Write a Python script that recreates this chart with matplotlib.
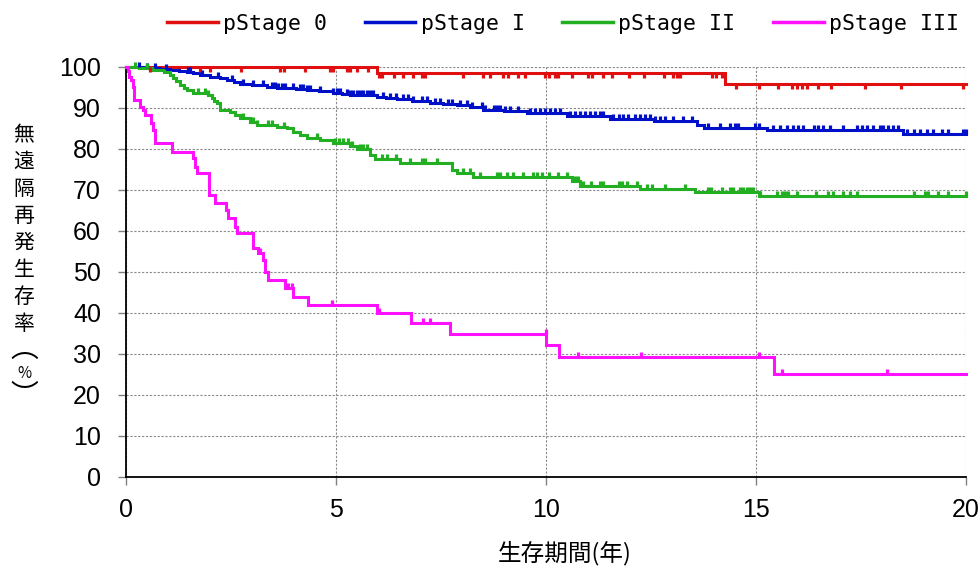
import numpy as np
import matplotlib
matplotlib.use("Agg")
import matplotlib.pyplot as plt
from matplotlib.path import Path
from matplotlib.lines import Line2D

# ---------------- data ----------------
series_labels = ["pStage 0", "pStage I", "pStage II", "pStage III"]
series_colors = ["#E01010", "#0010C8", "#22B022", "#FF10FF"]

red_t = [0, 5.97, 14.26]
red_s = [100, 98.5, 95.8]
red_c = [0.57, 1.76, 2.0, 2.73, 3.67, 3.75, 4.25, 4.86, 4.94, 5.25, 5.33, 5.49, 5.77,
         6.03, 6.09, 6.37, 6.6, 6.84, 7.04, 7.12, 8.03, 8.51, 8.67, 8.98, 9.1, 9.34, 9.5,
         9.98, 10.06, 10.21, 10.29, 10.61, 11.01, 11.09, 11.36, 11.56, 11.98, 12.34, 12.81,
         13.03, 13.11, 13.19, 13.96, 14.04, 14.2, 14.52, 15.08, 15.52, 15.86, 15.97, 16.09,
         16.21, 16.48, 16.79, 17.6, 18.45, 19.94]

blue_t = [0, 0.4, 0.8, 1.05, 1.25, 1.45, 1.6, 1.76, 2.0, 2.24, 2.4, 2.56, 2.71, 3.0, 3.35,
          3.6, 3.83, 4.05, 4.3, 4.6, 4.94, 5.15, 5.33, 5.97, 6.2, 6.45, 6.8, 7.24, 7.55, 7.87,
          8.19, 8.51, 9.0, 9.54, 10.49, 11.52, 12.56, 13.59, 13.75, 15.25, 18.5]
blue_s = [100, 99.8, 99.5, 99.2, 99.0, 98.8, 98.4, 98.0, 97.6, 97.2, 96.8, 96.3, 95.8, 95.5,
          95.1, 94.9, 94.7, 94.5, 94.3, 94.0, 93.7, 93.4, 93.1, 92.7, 92.4, 92.0, 91.6, 91.1,
          90.9, 90.7, 90.1, 89.4, 89.1, 88.8, 88.0, 87.2, 86.8, 85.8, 85.1, 84.5, 83.6]
blue_c = [0.3, 0.5, 0.7, 0.95, 1.48, 1.52, 1.8, 2.2, 2.52, 2.79, 3.03, 3.27, 3.47, 3.55, 3.63,
          3.71, 3.79, 3.98, 4.14, 4.22, 4.3, 4.38, 4.62, 4.94, 5.02, 5.1, 5.25, 5.33, 5.41,
          5.49, 5.57, 5.65, 5.73, 5.81, 5.89, 6.13, 6.29, 6.44, 6.6, 6.72, 6.84, 7.04, 7.16,
          7.36, 7.48, 7.67, 7.75, 7.95, 8.11, 8.23, 8.47, 8.55, 8.75, 8.83, 8.9, 9.02, 9.14,
          9.34, 9.62, 9.74, 9.86, 9.98, 10.1, 10.21, 10.33, 10.57, 10.69, 10.81, 10.93, 11.05,
          11.17, 11.29, 11.36, 11.6, 11.73, 11.84, 11.96, 12.12, 12.24, 12.36, 12.48, 12.6,
          12.71, 12.83, 13.03, 13.27, 13.47, 13.86, 14.14, 14.38, 14.5, 14.58, 14.98, 15.06,
          15.4, 15.56, 15.73, 15.89, 16.0, 16.13, 16.37, 16.48, 16.6, 16.76, 17.08, 17.4,
          17.52, 17.64, 17.79, 17.95, 18.03, 18.15, 18.27, 18.39, 18.59, 18.75, 18.9, 19.06,
          19.22, 19.42, 19.58, 19.94, 20.0]

green_t = [0, 0.3, 0.65, 0.9, 1.05, 1.13, 1.2, 1.29, 1.37, 1.45, 1.6, 1.96, 2.04, 2.1, 2.16,
           2.24, 2.48, 2.6, 2.71, 2.95, 3.11, 3.59, 3.83, 3.98, 4.15, 4.3, 4.62, 4.94, 5.33,
           5.49, 5.81, 5.93, 6.52, 7.75, 7.87, 8.27, 10.61, 10.81, 12.24, 13.55, 15.06]
green_s = [100, 99.6, 99.2, 98.8, 98.0, 97.2, 96.4, 95.5, 94.9, 94.3, 93.7, 93.1, 92.3, 91.7,
           91.1, 89.4, 89.0, 88.2, 87.4, 86.6, 85.8, 85.4, 85.0, 84.1, 83.3, 82.5, 82.1, 81.3,
           80.7, 79.9, 78.5, 77.4, 76.6, 74.8, 74.0, 73.2, 72.1, 71.0, 70.2, 69.5, 68.5]
green_c = [0.21, 0.49, 1.72, 1.88, 1.96, 2.79, 3.03, 3.11, 3.39, 3.47, 3.75, 4.54, 4.98, 5.06,
           5.17, 5.29, 5.37, 5.57, 5.65, 5.73, 6.09, 6.21, 6.44, 6.76, 7.04, 7.12, 7.4, 8.03,
           8.19, 8.43, 8.83, 8.9, 9.06, 9.22, 9.46, 9.7, 9.78, 9.9, 10.06, 10.29, 10.49, 10.69,
           10.77, 10.89, 11.08, 11.29, 11.36, 11.73, 11.8, 11.92, 12.16, 12.4, 12.52, 12.83,
           13.31, 13.86, 13.94, 14.18, 14.38, 14.46, 14.62, 14.7, 14.78, 14.86, 14.94, 15.1,
           15.49, 15.61, 15.69, 15.77, 15.97, 16.44, 16.71, 16.83, 17.08, 17.24, 17.4, 18.75,
           19.02, 19.1, 19.33, 19.57, 20.0]

mag_t = [0, 0.05, 0.08, 0.12, 0.16, 0.2, 0.34, 0.4, 0.45, 0.6, 0.64, 0.68, 1.09, 1.59, 1.64,
         1.7, 1.98, 2.12, 2.38, 2.44, 2.6, 2.64, 3.02, 3.15, 3.25, 3.31, 3.37, 3.79, 3.98,
         4.34, 5.97, 6.79, 7.71, 10.0, 10.32, 15.43]
mag_s = [100, 99.0, 97.6, 96.8, 95.1, 91.9, 90.2, 89.4, 88.2, 86.2, 84.6, 81.3, 79.3, 77.7,
         75.6, 74.0, 68.7, 66.7, 65.0, 63.0, 61.0, 59.4, 55.7, 54.5, 52.9, 50.0, 48.0, 46.0,
         43.9, 41.9, 40.0, 37.6, 34.9, 32.1, 29.1, 25.0]
mag_c = [3.2, 3.86, 3.95, 4.91, 6.03, 7.07, 7.24, 9.99, 10.75, 12.26, 15.06, 15.63, 18.13]

x_ticks = [0, 5, 10, 15, 20]
y_ticks = [0, 10, 20, 30, 40, 50, 60, 70, 80, 90, 100]
x_label = "生存期間(年)"
y_label_chars = ["無", "遠", "隔", "再", "発", "生", "存", "率", "︵", "%", "︶"]
t_max = 20

# ---------------- figure ----------------
W, H = 980, 568
fig = plt.figure(figsize=(W / 100, H / 100), dpi=100)
ax = fig.add_axes([126 / W, 1 - 476.7 / H, 840 / W, 410 / H])

up_tick = Path([(0, 0), (0, 1)], [Path.MOVETO, Path.LINETO])
down_tick = Path([(0, 0), (0, -1)], [Path.MOVETO, Path.LINETO])

def surv_at(t, s, c):
    t = np.asarray(t); s = np.asarray(s); c = np.asarray(c)
    idx = np.searchsorted(t, c, side="right") - 1
    return s[idx]

groups = [
    (red_t, red_s, red_c, down_tick),
    (blue_t, blue_s, blue_c, up_tick),
    (green_t, green_s, green_c, up_tick),
    (mag_t, mag_s, mag_c, up_tick),
]

for (t, s, c, mk), col in zip(groups, series_colors):
    tt = list(t) + [t_max]
    ss = list(s) + [s[-1]]
    ax.step(tt, ss, where="post", color=col, lw=2.2, zorder=3, clip_on=False,
            solid_joinstyle="miter")
    ax.plot(c, surv_at(t, s, c), linestyle="none", marker=mk, ms=7.5, mew=2.3,
            color=col, zorder=4, clip_on=False, solid_capstyle="butt")

ax.set_xlim(0, 20)
ax.set_ylim(0, 100)
ax.set_xticks(x_ticks)
ax.set_yticks(y_ticks)

tick_font = ["Liberation Sans Narrow", "Liberation Sans", "DejaVu Sans"]
for lab in ax.get_xticklabels() + ax.get_yticklabels():
    lab.set_family(tick_font)
    lab.set_fontsize(18)

ax.tick_params(axis="y", direction="out", length=6, width=1, color="#808080", pad=12)
ax.tick_params(axis="x", direction="out", length=6, width=1, color="#808080", pad=9)

ax.grid(True, color="#8a8a8a", linestyle=(0, (2, 1.5)), linewidth=0.8)
ax.set_axisbelow(True)
for side in ["top", "right"]:
    ax.spines[side].set_visible(False)
for side in ["left", "bottom"]:
    ax.spines[side].set_color("black")
    ax.spines[side].set_linewidth(1.3)

# x label
cjk = ["Noto Sans CJK JP", "DejaVu Sans"]
fig.text(565 / W, 1 - 553 / H, x_label, family=cjk, fontsize=17, ha="center", va="center")

# y label, stacked vertically
y_centers = [135, 162, 189, 216, 243, 270, 297, 324, 349, 373, 396]
for ch, yc in zip(y_label_chars, y_centers):
    if ch == "%":
        fs = 11
    elif ch in ("︵", "︶"):
        fs = 20
    else:
        fs = 15
    fig.text(24 / W, 1 - yc / H, ch, family=cjk, fontsize=fs, ha="center", va="center")

# legend
handles = [Line2D([0], [0], color=c, lw=2.5) for c in series_colors]
fig.legend(handles, series_labels, loc="center", bbox_to_anchor=(563 / W, 1 - 24 / H),
           ncol=4, frameon=False, prop={"family": "DejaVu Sans Mono", "size": 15.5},
           handlelength=2.35, handletextpad=0.25, columnspacing=1.75, borderpad=0)

fig.savefig("out.png", dpi=100)
